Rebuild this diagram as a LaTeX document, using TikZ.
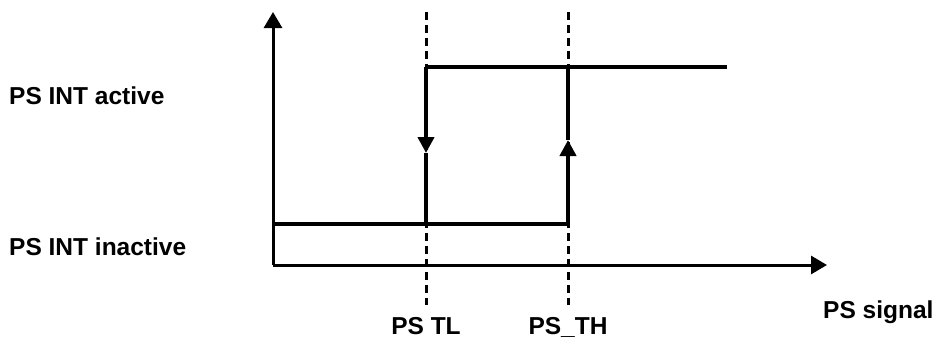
\documentclass[tikz,border=0pt]{standalone}
\usepackage{fontspec}
\setmainfont{Liberation Sans}
\usetikzlibrary{arrows.meta}

\begin{document}
\begin{tikzpicture}[x=1pt, y=-1pt,
	every node/.style={font=\bfseries\fontsize{24.5}{28}\selectfont, inner sep=0pt},
	axis/.style={line width=3pt, -{Triangle[length=16pt, width=18pt]}},
	sig/.style={line width=4pt},
	sigarrow/.style={sig, -{Triangle[length=16pt, width=16pt]}},
	thresh/.style={line width=3pt, dash pattern=on 8pt off 5pt}]
		\useasboundingbox (0,0) rectangle (935,340);
		
		\coordinate (O) at (273,265);
		\coordinate (Ytop) at (273,12);
		\coordinate (Xend) at (827,265);
		
		\coordinate (TLtop) at (426,12);
		\coordinate (TLbot) at (426,305);
		\coordinate (THtop) at (568,12);
		\coordinate (THbot) at (568,305);
		
		\coordinate (LowStart) at (273,224);
		\coordinate (LowEnd) at (568,224);
		\coordinate (HighStart) at (426,67);
		\coordinate (HighEnd) at (727,67);
		\coordinate (TLlow) at (426,224);
		\coordinate (THhigh) at (568,67);
		\coordinate (TLmid) at (426,153);
		\coordinate (THmid) at (568,140);
		
		\draw[thresh] (TLtop) -- (TLbot);
		\draw[thresh] (THtop) -- (THbot);
		
		\draw[axis] (O) -- (Ytop);
		\draw[axis] (O) -- (Xend);
		
		\draw[sig] (LowStart) -- (LowEnd);
		\draw[sig] (HighStart) -- (HighEnd);
		\draw[sigarrow] (HighStart) -- (TLmid);
		\draw[sig] (TLmid) -- (TLlow);
		\draw[sigarrow] (LowEnd) -- (THmid);
		\draw[sig] (THmid) -- (THhigh);
		
		\node[anchor=base west] at (9,104) (active) {PS INT active};
		\node[anchor=base west] at (9,255) (inactive) {PS INT inactive};
		\node[anchor=base west] at (823,318) (signal) {PS signal};
		\node[anchor=base] at (426,334) (TL) {PS TL};
		\node[anchor=base] at (568,334) (TH) {PS\_TH};
		\end{tikzpicture}
\end{document}
